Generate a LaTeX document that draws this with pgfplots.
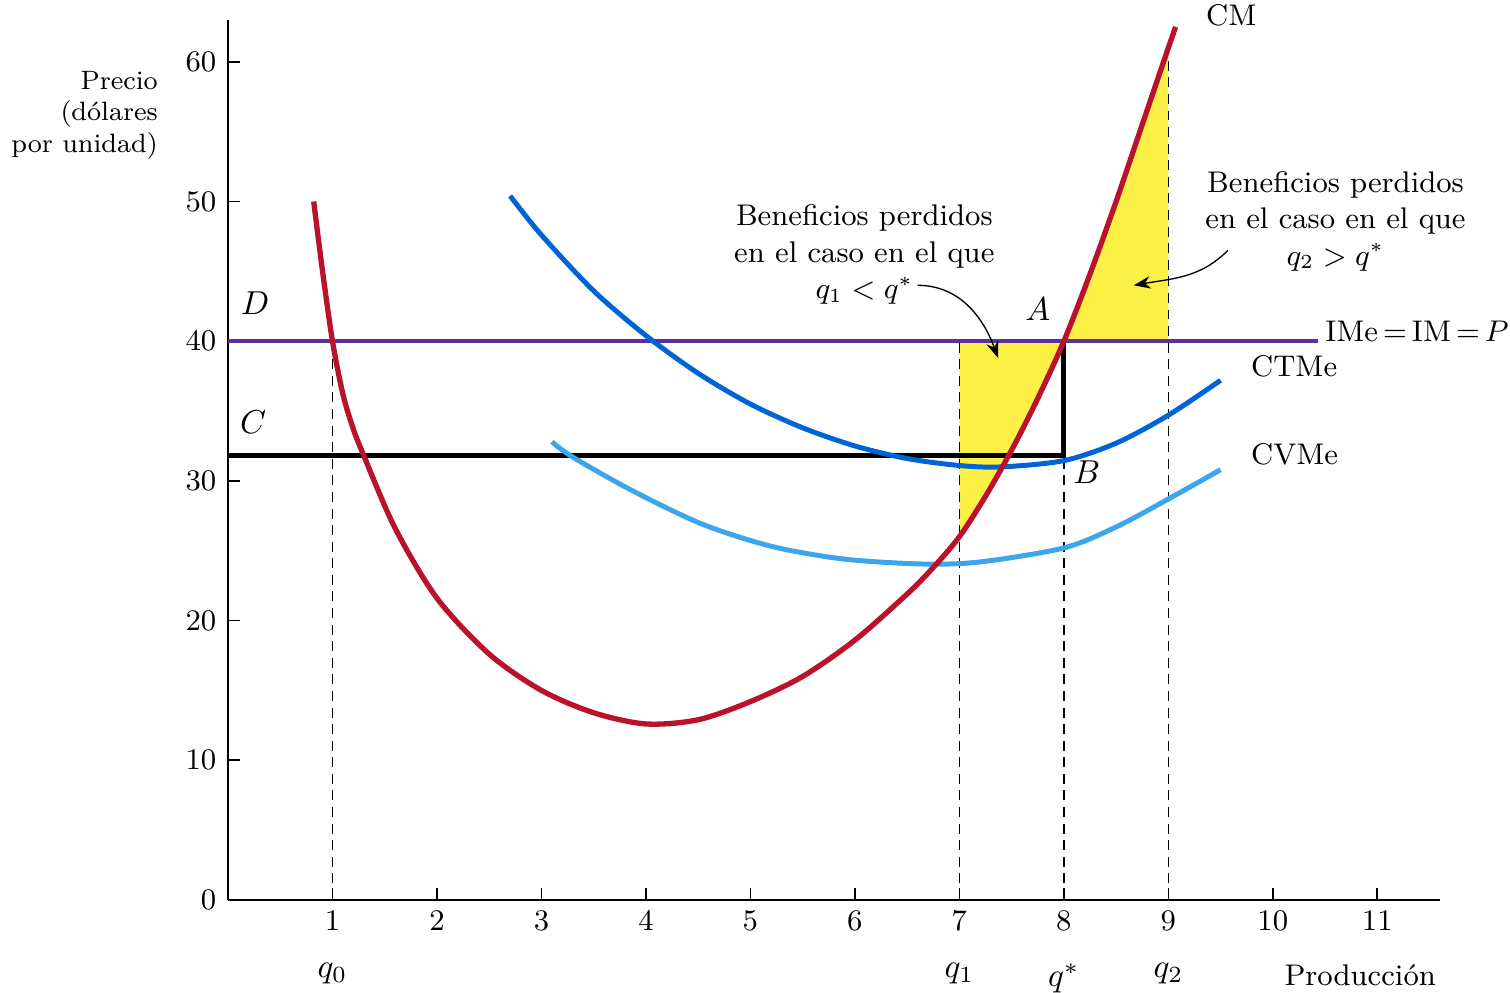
\documentclass[border=0pt]{standalone}
\usepackage{pgfplots}
\pgfplotsset{compat=1.18}
\usetikzlibrary{arrows.meta}
\definecolor{cmred}{RGB}{185,18,42}
\definecolor{ctblue}{RGB}{0,100,215}
\definecolor{cvblue}{RGB}{60,165,235}
\definecolor{imepurple}{RGB}{88,48,160}
\definecolor{benyellow}{RGB}{250,240,70}

% coste marginal
\pgfplotstableread{
x y
0.82 50
0.905 45
1.0 40
1.1 36.2
1.2 33.7
1.3 31.8
1.6 26.6
2.0 21.6
2.5 17.6
3.0 15.0
3.5 13.4
4.0 12.6
4.5 12.9
5.0 14.2
5.5 16.0
6.0 18.6
6.5 21.9
6.75 23.8
7.0 26.0
7.25 28.9
7.5 32.2
7.75 35.9
8.0 40
8.25 44.8
8.5 50.0
8.75 55.5
9.0 61.0
9.07 62.5
}\cmdata

% coste total medio
\pgfplotstableread{
x y
2.7 50.4
3.0 47.6
3.5 43.6
4.0 40.4
4.5 37.7
5.0 35.5
5.5 33.8
6.0 32.5
6.5 31.6
7.0 31.1
7.4 31.0
8.0 31.45
8.5 32.7
9.0 34.7
9.5 37.2
}\ctmedata

% coste variable medio
\pgfplotstableread{
x y
3.1 32.8
3.3 31.7
3.87 29.3
4.54 26.9
5.21 25.3
5.9 24.4
6.65 24.05
7.2 24.2
8.0 25.2
8.5 26.7
9.0 28.7
9.5 30.8
}\cvmedata

\begin{document}
\begin{tikzpicture}
\useasboundingbox (-2.416cm,-0.985cm) rectangle (13.584cm,9.536cm);
\begin{axis}[
    scale only axis,
    width=12.842cm, height=9.325cm,
    xmin=0, xmax=11.6,
    ymin=0, ymax=63,
    axis lines=left,
    axis line style={-, line width=0.5pt},
    xtick={1,...,11},
    ytick={0,10,...,60},
    tick align=inside,
    major tick length=0.13cm,
    tick style={black, line width=0.5pt},
    tick label style={font=\small},
    clip=false,
]
    % beneficios perdidos
    \addplot[fill=benyellow, draw=none] coordinates
        {(7,40)(7,26.0)(7.25,28.9)(7.5,32.2)(7.75,35.9)(8,40)} --cycle;
    \addplot[fill=benyellow, draw=none] coordinates
        {(8,40)(8.25,44.8)(8.5,50.0)(8.75,55.5)(9,61.0)(9,40)} --cycle;
    %
    \addplot[black, line width=0.45pt, dash pattern=on 3pt off 2pt] coordinates {(1,0)(1,40)};
    \addplot[black, line width=0.45pt, dash pattern=on 3pt off 2pt] coordinates {(7,0)(7,40)};
    \addplot[black, line width=0.45pt, dash pattern=on 3pt off 2pt] coordinates {(8,0)(8,31.8)};
    \addplot[black, line width=0.45pt, dash pattern=on 3pt off 2pt] coordinates {(9,0)(9,61.5)};
    %
    \addplot[imepurple, line width=1.3pt] coordinates {(0,40)(10.43,40)};
    \addplot[black, line width=1.5pt] coordinates {(0,31.8)(8,31.8)(8,40)};
    \addplot[cvblue, line width=1.5pt, smooth] table {\cvmedata};
    \addplot[ctblue, line width=1.5pt, smooth] table {\ctmedata};
    \addplot[cmred, line width=1.6pt, smooth] table {\cmdata};
    %
    \node at (axis cs:0.26,42.7) {$D$};
    \node at (axis cs:0.24,34.2) {$C$};
    \node at (axis cs:7.75,42.3) {$A$};
    \node at (axis cs:8.22,30.6) {$B$};
    \node[anchor=west, font=\small] at (axis cs:9.25,63.3) {CM};
    \node[anchor=west, font=\small, inner sep=0.5pt] at (axis cs:10.48,40.7) {IMe\,=\,IM\,=\,$P$};
    \node[anchor=west, font=\small] at (axis cs:9.68,38.2) {CTMe};
    \node[anchor=west, font=\small] at (axis cs:9.68,31.9) {CVMe};
    %
    \node[anchor=north, align=center, font=\small] at (axis cs:6.09,50.6)
        {Beneficios perdidos\\en el caso en el que\\$q_1 < q^*$};
    \node[anchor=north, align=center, font=\small] at (axis cs:10.6,53.0)
        {Beneficios perdidos\\en el caso en el que\\$q_2 > q^*$};
    \draw[-{Stealth[length=5pt]}, line width=0.4pt] (axis cs:6.6,44.0)
        to[out=0, in=110] (axis cs:7.37,38.8);
    \draw[-{Stealth[length=5pt]}, line width=0.4pt] (axis cs:9.57,46.5)
        to[out=225, in=10] (axis cs:8.67,44.0);
    %
    \node[anchor=north east, align=right, font=\footnotesize, xshift=-0.62cm] at (rel axis cs:0,0.955)
        {Precio\\(dólares\\por unidad)};
    \node[anchor=north, yshift=-0.55cm] at (axis cs:1,0) {$q_0$};
    \node[anchor=north, yshift=-0.55cm] at (axis cs:7,0) {$q_1$};
    \node[anchor=north, yshift=-0.55cm] at (axis cs:8,0) {$q^*$};
    \node[anchor=north, yshift=-0.55cm] at (axis cs:9,0) {$q_2$};
    \node[anchor=north west, font=\small, yshift=-0.56cm] at (axis cs:10.0,0) {Producción};
\end{axis}
\end{tikzpicture}
\end{document}
